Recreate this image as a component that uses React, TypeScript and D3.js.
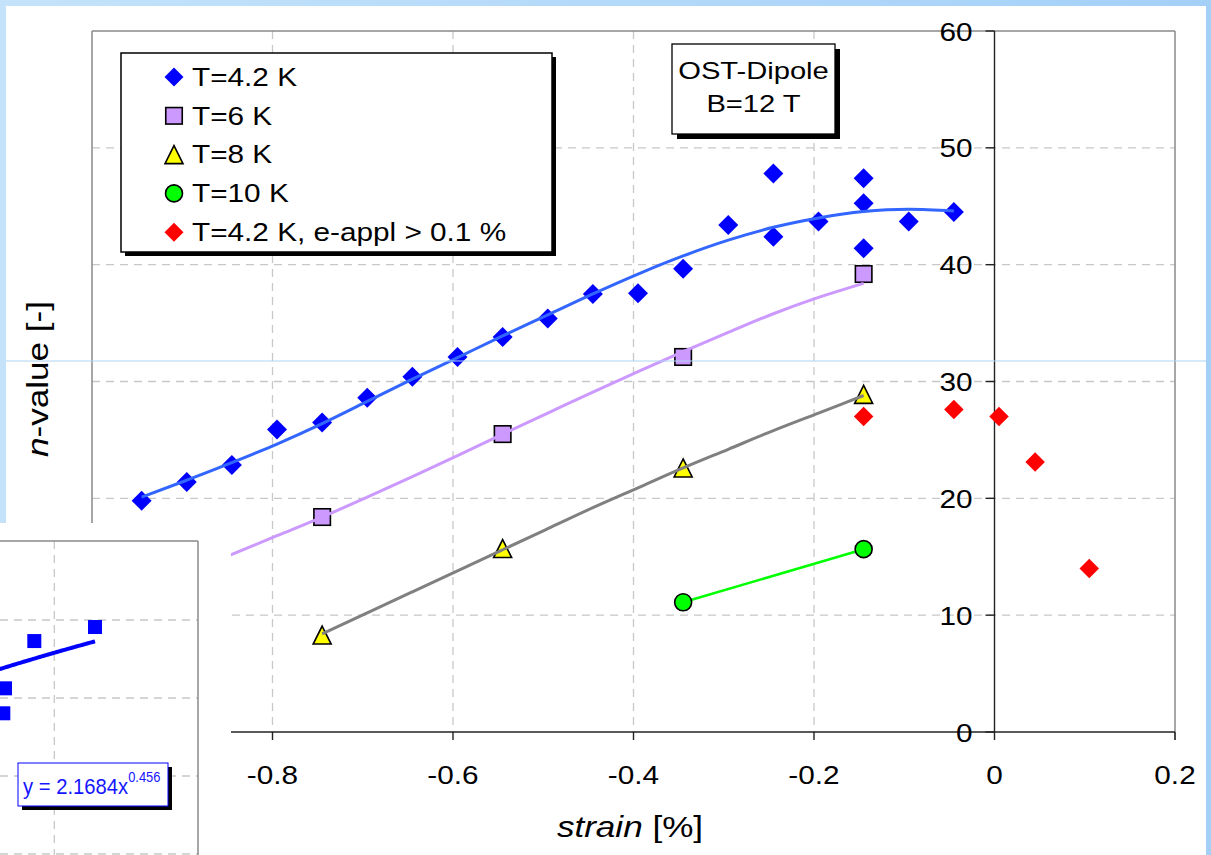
import React from "react";
import * as d3 from "d3";

// ---- n-value vs. applied strain, OST dipole strand at B = 12 T ----

// T = 4.2 K measurements
const strain42 = [-0.945, -0.895, -0.845, -0.795, -0.745, -0.695, -0.645, -0.595, -0.545, -0.495, -0.445, -0.395, -0.345, -0.295, -0.245, -0.245, -0.195, -0.145, -0.145, -0.145, -0.095, -0.045];
const n42 = [19.8, 21.4, 22.85, 25.9, 26.5, 28.6, 30.4, 32.1, 33.8, 35.4, 37.5, 37.55, 39.65, 43.4, 47.8, 42.4, 43.7, 47.4, 45.25, 41.4, 43.7, 44.5];

// T = 6 K
const strain6 = [-0.745, -0.545, -0.345, -0.145];
const n6 = [18.4, 25.5, 32.1, 39.2];

// T = 8 K
const strain8 = [-0.745, -0.545, -0.345, -0.145];
const n8 = [8.3, 15.7, 22.6, 28.9];

// T = 10 K
const strain10 = [-0.345, -0.145];
const n10 = [11.1, 15.65];

// T = 4.2 K with applied strain above 0.1 %
const strainHi = [-0.145, -0.045, 0.005, 0.045, 0.105];
const nHi = [27.0, 27.6, 27.0, 23.1, 14.0];

// fitted curves
const fitStrain42 = [-0.945, -0.895, -0.845, -0.795, -0.745, -0.695, -0.645, -0.595, -0.545, -0.495, -0.445, -0.395, -0.345, -0.295, -0.245, -0.195, -0.145, -0.095, -0.045];
const fitN42 = [20.1, 21.55, 23.05, 24.65, 26.4, 28.3, 30.2, 32.05, 33.9, 35.7, 37.5, 39.2, 40.75, 42.1, 43.2, 44.0, 44.55, 44.75, 44.6];
const fitStrain6 = [-0.945, -0.895, -0.845, -0.795, -0.745, -0.695, -0.645, -0.595, -0.545, -0.495, -0.445, -0.395, -0.345, -0.295, -0.245, -0.195, -0.145];
const fitN6 = [12.0, 13.6, 15.2, 16.8, 18.4, 20.1, 21.85, 23.65, 25.5, 27.3, 29.1, 30.85, 32.55, 34.2, 35.8, 37.2, 38.4];
const fitStrain8 = [-0.745, -0.695, -0.645, -0.595, -0.545, -0.495, -0.445, -0.395, -0.345, -0.295, -0.245, -0.195, -0.145];
const fitN8 = [8.4, 10.2, 12.0, 13.8, 15.6, 17.4, 19.2, 20.9, 22.6, 24.2, 25.8, 27.3, 28.8];

const xTicks = [-0.8, -0.6, -0.4, -0.2, 0, 0.2];
const yTicks = [0, 10, 20, 30, 40, 50, 60];
const xGrid = [-0.8, -0.6, -0.4, -0.2];
const yGrid = [10, 20, 30, 40, 50];

const legendLabels = ["T=4.2 K", "T=6 K", "T=8 K", "T=10 K", "T=4.2 K, e-appl > 0.1 %"];
const boxLines = ["OST-Dipole", "B=12 T"];

// small power-law inset
const insetXs = [111.84, 97.76, 90.96, 90.57];
const insetYs = [19.55, 18.65, 15.62, 14.02];
const insetGridX = [102.4];
const insetGridY = [5, 10, 15, 20];
const powA = 2.1684;
const powB = 0.456;

const W = 1211;
const H = 855;
const FONT = "'Liberation Sans', Arial, Helvetica, sans-serif";
const SX = 1.19;

const BLUE = "#0000FF";
const FIT_BLUE = "#3366FF";
const LILAC = "#CC99FF";
const GREY = "#808080";
const GREEN = "#00FF00";
const YELLOW = "#FFFF00";
const RED = "#FF0000";

type Shape = "diamond" | "square" | "triangle" | "circle";

function Marker({ cx, cy, shape, fill, size, stroke }: { cx: number; cy: number; shape: Shape; fill: string; size: number; stroke?: string }) {
  const h = size / 2;
  if (shape === "diamond") {
    return <path d={`M${cx},${cy - h}L${cx + h},${cy}L${cx},${cy + h}L${cx - h},${cy}Z`} fill={fill} />;
  }
  if (shape === "square") {
    return <rect x={cx - h} y={cy - h} width={size} height={size} fill={fill} stroke={stroke} strokeWidth={1.6} />;
  }
  if (shape === "triangle") {
    return <path d={`M${cx},${cy - h}L${cx + h},${cy + h}L${cx - h},${cy + h}Z`} fill={fill} stroke={stroke} strokeWidth={1.6} strokeLinejoin="miter" />;
  }
  return <circle cx={cx} cy={cy} r={h} fill={fill} stroke={stroke} strokeWidth={1.6} />;
}

function Label({ x, y, size, anchor = "start", sx = SX, rotate = 0, fill = "#000", children }: any) {
  const tr = `translate(${x},${y})${rotate ? ` rotate(${rotate})` : ""} scale(${sx},1)`;
  return (
    <text transform={tr} fontSize={size} textAnchor={anchor} fill={fill}>
      {children}
    </text>
  );
}

export default function App() {
  const x = d3.scaleLinear().domain([-1.0, 0.2]).range([92, 1175]);
  const y = d3.scaleLinear().domain([0, 60]).range([732, 31]);

  const curve = d3
    .line<[number, number]>()
    .x((d) => x(d[0]))
    .y((d) => y(d[1]))
    .curve(d3.curveMonotoneX);
  const straight = d3
    .line<[number, number]>()
    .x((d) => x(d[0]))
    .y((d) => y(d[1]));

  const zip = (a: number[], b: number[]) => a.map((v, i) => [v, b[i]] as [number, number]);

  const left = x.range()[0];
  const right = x.range()[1];
  const top = y.range()[1];
  const bottom = y.range()[0];
  const x0 = x(0);

  // inset scales
  const ix = d3.scaleLinear().domain([90, 112]).range([0.86, 95.7]);
  const iy = d3.scaleLinear().domain([5, 20]).range([854, 620]);
  const powSamples = d3.range(85, d3.max(insetXs)! + 0.001, 0.5).concat([d3.max(insetXs)!]);
  const powLine = d3
    .line<number>()
    .x((v) => ix(v))
    .y((v) => iy(powA * Math.pow(v, powB)));

  const legendRowY = (i: number) => 77 + i * 38.8;
  const legendItems: { shape: Shape; fill: string; stroke?: string; size: number }[] = [
    { shape: "diamond", fill: BLUE, size: 19 },
    { shape: "square", fill: LILAC, stroke: "#000", size: 16.5 },
    { shape: "triangle", fill: YELLOW, stroke: "#000", size: 18 },
    { shape: "circle", fill: GREEN, stroke: "#000", size: 17 },
    { shape: "diamond", fill: RED, size: 19 },
  ];

  return (
    <svg width={W} height={H} style={{ position: "absolute", left: 0, top: 0, display: "block" }} fontFamily={FONT}>
      <defs>
        <linearGradient id="slideBg" x1="0" x2="1" y1="0" y2="0">
          <stop offset="0" stopColor="#C4E3FA" />
          <stop offset="1" stopColor="#A4D0F8" />
        </linearGradient>
      </defs>
      <rect x={0} y={0} width={W} height={H} fill="url(#slideBg)" />
      <rect x={6} y={6} width={1200} height={H - 6} fill="#FFFFFF" />

      {/* grid */}
      <g stroke="#C8C8C8" strokeWidth={1.3} strokeDasharray="8,6">
        {xGrid.map((v) => (
          <line key={"gx" + v} x1={x(v)} x2={x(v)} y1={top} y2={bottom} />
        ))}
        {yGrid.map((v) => (
          <line key={"gy" + v} x1={left} x2={right} y1={y(v)} y2={y(v)} />
        ))}
      </g>

      {/* plot frame */}
      <g stroke="#8A8A8A" strokeWidth={1.5} fill="none">
        <line x1={left} x2={right} y1={top} y2={top} />
        <line x1={left} x2={left} y1={top} y2={bottom} />
        <line x1={right} x2={right} y1={top} y2={bottom + 8} />
      </g>

      {/* axes */}
      <g stroke="#222" strokeWidth={1.4}>
        <line x1={left} x2={right} y1={bottom} y2={bottom} />
        <line x1={x0} x2={x0} y1={top} y2={bottom} />
        {xTicks.map((v) => (
          <line key={"tx" + v} x1={x(v)} x2={x(v)} y1={bottom} y2={bottom + 8} />
        ))}
        {yTicks.map((v) => (
          <line key={"ty" + v} x1={x0 - 9} x2={x0} y1={y(v)} y2={y(v)} />
        ))}
      </g>

      {/* tick labels */}
      {xTicks.map((v) => (
        <Label key={"lx" + v} x={x(v)} y={784} size={25} anchor="middle">
          {v === 0 ? "0" : v.toFixed(1)}
        </Label>
      ))}
      {yTicks.map((v) => (
        <Label key={"ly" + v} x={x0 - 22} y={y(v) + 9.5} size={25} anchor="end">
          {String(v)}
        </Label>
      ))}

      {/* axis titles */}
      <Label x={630} y={837} size={29.5} anchor="middle">
        <tspan fontStyle="italic">strain</tspan>
        <tspan> [%]</tspan>
      </Label>
      <Label x={48} y={379} size={29.5} anchor="middle" rotate={-90}>
        <tspan fontStyle="italic">n</tspan>
        <tspan>-value [-]</tspan>
      </Label>

      {/* markers */}
      {zip(strain42, n42).map((d, i) => (
        <Marker key={"m42" + i} cx={x(d[0])} cy={y(d[1])} shape="diamond" fill={BLUE} size={20} />
      ))}
      {zip(strainHi, nHi).map((d, i) => (
        <Marker key={"mhi" + i} cx={x(d[0])} cy={y(d[1])} shape="diamond" fill={RED} size={19.5} />
      ))}
      {zip(strain6, n6).map((d, i) => (
        <Marker key={"m6" + i} cx={x(d[0])} cy={y(d[1])} shape="square" fill={LILAC} stroke="#000" size={16.5} />
      ))}
      {zip(strain8, n8).map((d, i) => (
        <Marker key={"m8" + i} cx={x(d[0])} cy={y(d[1])} shape="triangle" fill={YELLOW} stroke="#000" size={18} />
      ))}

      {/* fitted curves */}
      <path d={curve(zip(fitStrain42, fitN42)) || ""} fill="none" stroke={FIT_BLUE} strokeWidth={3} />
      <path d={curve(zip(fitStrain6, fitN6)) || ""} fill="none" stroke={LILAC} strokeWidth={3} />
      <path d={curve(zip(fitStrain8, fitN8)) || ""} fill="none" stroke={GREY} strokeWidth={3} />

      {/* T = 10 K series */}
      <path d={straight(zip(strain10, n10)) || ""} fill="none" stroke={GREEN} strokeWidth={2.6} />
      {zip(strain10, n10).map((d, i) => (
        <Marker key={"m10" + i} cx={x(d[0])} cy={y(d[1])} shape="circle" fill={GREEN} stroke="#000" size={17} />
      ))}

      {/* legend */}
      <rect x={125} y={57} width={431} height={199} fill="#000" />
      <rect x={121} y={53} width={431} height={199} fill="#FFF" stroke="#000" strokeWidth={1.5} />
      {legendLabels.map((t, i) => (
        <g key={"lg" + i}>
          <Marker cx={174} cy={legendRowY(i)} {...legendItems[i]} />
          <Label x={192} y={legendRowY(i) + 8.7} size={25}>
            {t}
          </Label>
        </g>
      ))}

      {/* annotation box */}
      <rect x={677} y={49} width={163} height={90} fill="#000" />
      <rect x={672} y={44} width={163} height={90} fill="#FFF" stroke="#000" strokeWidth={1.3} />
      {boxLines.map((t, i) => (
        <Label key={"bx" + i} x={753.5} y={79 + i * 33} size={24.5} anchor="middle">
          {t}
        </Label>
      ))}

      {/* slide guide */}
      <line x1={6} x2={1206} y1={361} y2={361} stroke="#AED4F4" strokeWidth={1} />

      {/* inset chart */}
      <g>
        <rect x={0} y={523} width={231} height={H - 523} fill="#FFF" />
        <g stroke="#C8C8C8" strokeWidth={1.3} strokeDasharray="8,6">
          {insetGridX.map((v) => (
            <line key={"igx" + v} x1={ix(v)} x2={ix(v)} y1={541} y2={H} />
          ))}
          {insetGridY.map((v) => (
            <line key={"igy" + v} x1={0} x2={198} y1={iy(v)} y2={iy(v)} />
          ))}
        </g>
        <g stroke="#8A8A8A" strokeWidth={1.5}>
          <line x1={0} x2={198} y1={541} y2={541} />
          <line x1={198} x2={198} y1={541} y2={H} />
        </g>
        {insetXs.map((v, i) => (
          <rect key={"ip" + i} x={ix(v) - 7} y={iy(insetYs[i]) - 7} width={14} height={14} fill={BLUE} />
        ))}
        <path d={powLine(powSamples) || ""} fill="none" stroke={BLUE} strokeWidth={4} />
        <rect x={22} y={767} width={150} height={43} fill="#000" />
        <rect x={18} y={763} width={150} height={43} fill="#FFF" stroke={BLUE} strokeWidth={1} />
        <text transform="translate(23,794) scale(0.92,1)" fontSize={22} fill="#1515FF">
          {`y = ${powA}x`}
          <tspan fontSize={14} dy={-12}>
            {String(powB)}
          </tspan>
        </text>
      </g>
    </svg>
  );
}
